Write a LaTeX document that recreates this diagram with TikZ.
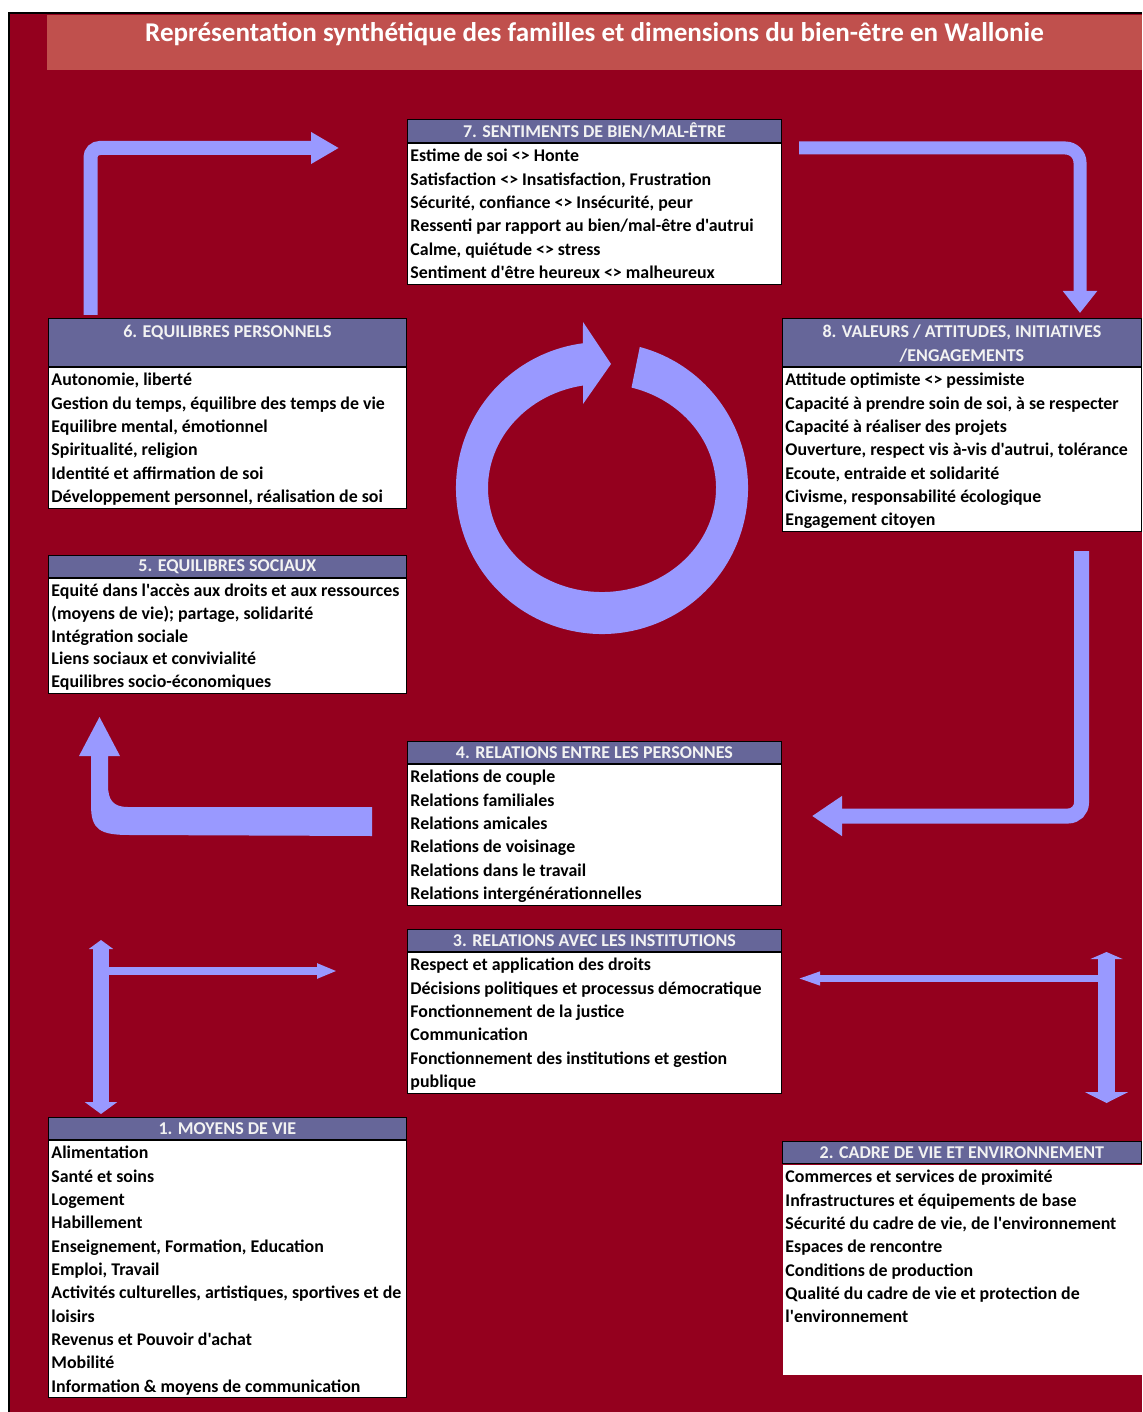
\documentclass[tikz,border=0pt]{standalone}
\usepackage{fontspec}
\setmainfont{Carlito}[Ligatures=TeXOff]
\usetikzlibrary{arrows.meta}

\definecolor{bgred}{HTML}{94001E}
\definecolor{titlered}{HTML}{C0504D}
\definecolor{hdrblue}{HTML}{666699}
\definecolor{hdrtext}{HTML}{F2F2F2}
\definecolor{arrowblue}{HTML}{9999FF}

\newcommand{\hdrtop}{\rule{0pt}{12.6pt}}
\newcommand{\hdrlow}{\rule[-2.4pt]{0pt}{12.6pt}}

\tikzset{
  hdr/.style={fill=hdrblue, draw=black, line width=0.6pt, text=hdrtext, anchor=north west,
    inner sep=0pt, align=center, font=\bfseries\fontsize{13.5}{18}\selectfont},
  bodybox/.style={fill=white, draw=black, line width=1.1pt, anchor=north west, inner sep=0pt},
  bodytext/.style={anchor=north west, align=left, inner xsep=2.4pt, inner ysep=1.9pt,
    font=\bfseries\fontsize{13.4}{17.5}\selectfont},
  flow/.style={draw=arrowblue}
}

\begin{document}
\begin{tikzpicture}[x=0.75pt,y=0.75pt,yscale=-1,xscale=1]
    \useasboundingbox (0,0) rectangle (1142,1412);

    %Background
    \fill[bgred] (9,13) rectangle (1142,1412);
    \draw[black, line width=0.8pt] (9,1412) -- (9,13) -- (1142,13);
    \fill[titlered] (47,15) rectangle (1142,70);

    % Text Node
    \node[text=white, font=\bfseries\fontsize{20.3}{24}\selectfont] (title) at (594.5,34.5)
      {Représentation synthétique des familles et dimensions du bien-être en Wallonie};

    %Box 7
    \node[hdr, minimum width=280.5pt, minimum height=17.25pt] (h7) at (407,119) {7. SENTIMENTS DE BIEN/MAL-ÊTRE};
    \node[bodybox, minimum width=280.5pt, minimum height=105.75pt] (b7) at (h7.south west) {};
    \node[bodytext] (t7) at (b7.north west) {\strut Estime de soi <> Honte\\
      Satisfaction <> Insatisfaction, Frustration\\
      Sécurité, confiance <> Insécurité, peur\\
      Ressenti par rapport au bien/mal-être d'autrui\\
      Calme, quiétude <> stress\\
      Sentiment d'être heureux <> malheureux};

    %Box 6
    \node[hdr, minimum width=268.5pt, minimum height=36pt] (h6) at (48,318) {\hdrtop 6. EQUILIBRES PERSONNELS\\ \hdrlow};
    \node[bodybox, minimum width=268.5pt, minimum height=105.75pt] (b6) at (h6.south west) {};
    \node[bodytext] (t6) at (b6.north west) {\strut Autonomie, liberté\\
      Gestion du temps, équilibre des temps de vie\\
      Equilibre mental, émotionnel\\
      Spiritualité, religion\\
      Identité et affirmation de soi\\
      Développement personnel, réalisation de soi};

    %Box 8
    \node[hdr, minimum width=269.25pt, minimum height=36pt] (h8) at (782,318) {\hdrtop 8. VALEURS / ATTITUDES, INITIATIVES\\ \hdrlow/ENGAGEMENTS};
    \node[bodybox, minimum width=269.25pt, minimum height=123pt] (b8) at (h8.south west) {};
    \node[bodytext] (t8) at (b8.north west) {\strut Attitude optimiste <> pessimiste\\
      Capacité à prendre soin de soi, à se respecter\\
      Capacité à réaliser des projets\\
      Ouverture, respect vis à-vis d'autrui, tolérance\\
      Ecoute, entraide et solidarité\\
      Civisme, responsabilité écologique\\
      Engagement citoyen};

    %Box 5
    \node[hdr, minimum width=268.5pt, minimum height=16.5pt] (h5) at (48,555) {5. EQUILIBRES SOCIAUX};
    \node[bodybox, minimum width=268.5pt, minimum height=86.25pt] (b5) at (h5.south west) {};
    \node[bodytext, font=\bfseries\fontsize{13.4}{17.1}\selectfont] (t5) at (b5.north west) {\strut Equité dans l'accès aux droits et aux ressources\\
      (moyens de vie); partage, solidarité\\
      Intégration sociale\\
      Liens sociaux et convivialité\\
      Equilibres socio-économiques};

    %Box 4
    \node[hdr, minimum width=280.5pt, minimum height=16.5pt] (h4) at (407,741) {4. RELATIONS ENTRE LES PERSONNES};
    \node[bodybox, minimum width=280.5pt, minimum height=105.75pt] (b4) at (h4.south west) {};
    \node[bodytext] (t4) at (b4.north west) {\strut Relations de couple\\
      Relations familiales\\
      Relations amicales\\
      Relations de voisinage\\
      Relations dans le travail\\
      Relations intergénérationnelles};

    %Box 3
    \node[hdr, minimum width=280.5pt, minimum height=16.5pt] (h3) at (407,929) {3. RELATIONS AVEC LES INSTITUTIONS};
    \node[bodybox, minimum width=280.5pt, minimum height=105.75pt] (b3) at (h3.south west) {};
    \node[bodytext] (t3) at (b3.north west) {\strut Respect et application des droits\\
      Décisions politiques et processus démocratique\\
      Fonctionnement de la justice\\
      Communication\\
      Fonctionnement des institutions et gestion\\
      publique};

    %Box 1
    \node[hdr, minimum width=268.5pt, minimum height=16.5pt] (h1) at (48,1117) {1. MOYENS DE VIE};
    \node[bodybox, minimum width=268.5pt, minimum height=192.75pt] (b1) at (h1.south west) {};
    \node[bodytext] (t1) at (b1.north west) {\strut Alimentation\\
      Santé et soins\\
      Logement\\
      Habillement\\
      Enseignement, Formation, Education\\
      Emploi, Travail\\
      Activités culturelles, artistiques, sportives et de\\
      loisirs\\
      Revenus et Pouvoir d'achat\\
      Mobilité\\
      Information \& moyens de communication};

    %Box 2
    \node[hdr, minimum width=269.25pt, minimum height=16.5pt] (h2) at (782,1141) {2. CADRE DE VIE ET ENVIRONNEMENT};
    \node[bodybox, draw=none, minimum width=269.25pt, minimum height=157.5pt] (b2) at (h2.south west) {};
    \node[bodytext] (t2) at (b2.north west) {\strut Commerces et services de proximité\\
      Infrastructures et équipements de base\\
      Sécurité du cadre de vie, de l'environnement\\
      Espaces de rencontre\\
      Conditions de production\\
      Qualité du cadre de vie et protection de\\
      l'environnement};

    %Arrow ends
    \coordinate (a6s) at (90.5,315);
    \coordinate (a7e) at (339,148);
    \coordinate (a7s) at (799,148);
    \coordinate (a8e) at (1080,313);
    \coordinate (a8s) at (1081.5,551);
    \coordinate (a4e) at (812,816);
    \coordinate (a1t) at (101,940);
    \coordinate (a1b) at (101,1114);
    \coordinate (a1j) at (101,971);
    \coordinate (a3w) at (337,971);
    \coordinate (a2t) at (1106.5,952);
    \coordinate (a2b) at (1106.5,1103);
    \coordinate (a2j) at (1106.5,978.5);
    \coordinate (a3e) at (792,978.5);

    %Arrows round the boxes
    \draw[flow, line width=10.5pt, rounded corners=7pt, -{Triangle[length=21pt,width=22.5pt]}] (a6s) |- (a7e);
    \draw[flow, line width=9.75pt, rounded corners=11pt, -{Triangle[length=16.5pt,width=24.75pt]}] (a7s) -| (a8e);
    \draw[flow, line width=11.25pt, rounded corners=10pt, -{Triangle[length=22.5pt,width=28.5pt]}] (a8s) |- (a4e);
    %Shape: tapered arrow 4 to 5
    \fill[arrowblue] (372,807) -- (128,807) .. controls (113,807) and (108,800) .. (108,785) -- (108,756) -- (120,756)
      -- (99.5,717) -- (79,756) -- (91,756) -- (91,805) .. controls (91,830) and (100,835) .. (130,835) -- (372,836) -- cycle;

    %Double arrows to box 3
    \draw[flow, line width=12pt, {Triangle[length=6.75pt,width=18pt]}-{Triangle[length=9pt,width=24pt]}] (a1t) -- (a1b);
    \draw[flow, line width=6pt, -{Triangle[length=15pt,width=10.5pt]}] (a1j) -- (a3w);
    \draw[flow, line width=12.75pt, {Triangle[length=5.25pt,width=24pt]}-{Triangle[length=8.25pt,width=32.25pt]}] (a2t) -- (a2b);
    \draw[flow, line width=5.25pt, -{Triangle[length=21pt,width=8.25pt]}] (a2j) -- (a3e);

    %Shape: circular arrow
    \fill[arrowblue] (602,488) ++(-75:146) arc[start angle=-75, end angle=262.5, radius=146]
      -- (583,322) -- (611,364) -- (583,404) -- (583,385.5)
      arc[start angle=260.4, end angle=-75, x radius=114, y radius=104] -- cycle;

\end{tikzpicture}
\end{document}
